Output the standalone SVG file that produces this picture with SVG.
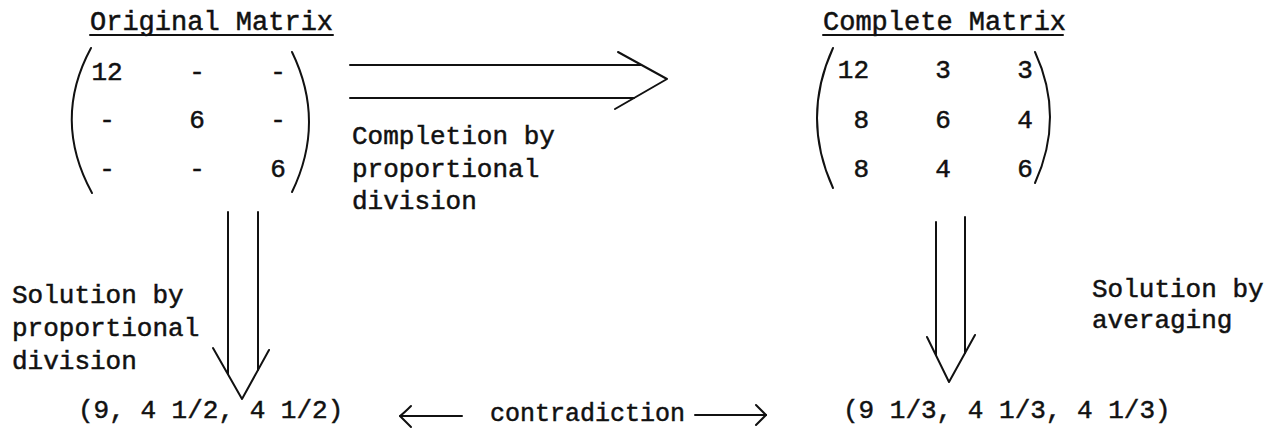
<svg xmlns="http://www.w3.org/2000/svg" width="1274" height="429" viewBox="0 0 1274 429">
<style>
text{font-family:"Liberation Mono","DejaVu Sans Mono",monospace;font-size:26px;fill:#111;stroke:#111;stroke-width:0.5}
.t{font-size:27px}
.c{font-size:25px}
.m{text-anchor:middle}
.e{text-anchor:end}
.ln{fill:none;stroke:#111;stroke-width:2;stroke-linecap:round;stroke-linejoin:round}
</style>
<rect width="1274" height="429" fill="#fff"/>
<g id="original-matrix">
<text class="t" x="90" y="30">Original Matrix</text>
<line class="ln" x1="90" y1="35" x2="333" y2="35"/>
<path class="ln" d="M91,48 Q52,120 92,193"/>
<path class="ln" d="M292,52 Q326,122 292,192"/>
<text class="m" x="107" y="80">12</text><text class="m" x="197" y="80">-</text><text class="m" x="278" y="80">-</text>
<text class="m" x="107" y="128">-</text><text class="m" x="197" y="128">6</text><text class="m" x="278" y="128">-</text>
<text class="m" x="107" y="177">-</text><text class="m" x="197" y="177">-</text><text class="m" x="278" y="177">6</text>
</g>
<g id="complete-matrix">
<text class="t" x="823" y="30">Complete Matrix</text>
<line class="ln" x1="823" y1="35" x2="1063" y2="35"/>
<path class="ln" d="M833,48 Q801,118 833,188"/>
<path class="ln" d="M1035,52 Q1065,117 1035,183"/>
<text class="e" x="869" y="78">12</text><text class="m" x="943" y="78">3</text><text class="m" x="1025" y="78">3</text>
<text class="e" x="869" y="128">8</text><text class="m" x="943" y="128">6</text><text class="m" x="1025" y="128">4</text>
<text class="e" x="869" y="177">8</text><text class="m" x="943" y="177">4</text><text class="m" x="1025" y="177">6</text>
</g>
<g id="solution-proportional">
<text x="78" y="418">(9, 4 1/2, 4 1/2)</text>
</g>
<g id="solution-averaging">
<text x="843" y="418">(9 1/3, 4 1/3, 4 1/3)</text>
</g>
<g id="connectors">
<g id="completion">
<line class="ln" x1="350" y1="65" x2="641" y2="65"/>
<line class="ln" x1="350" y1="98" x2="634" y2="98"/>
<polyline class="ln" points="618,52 667,79 615,109"/>
<text x="352" y="144">Completion by</text>
<text x="352" y="177">proportional</text>
<text x="352" y="209">division</text>
</g>
<g id="solution-by-proportional">
<line class="ln" x1="228" y1="212" x2="228" y2="374"/>
<line class="ln" x1="258" y1="212" x2="258" y2="370"/>
<polyline class="ln" points="213,348 242,399 269,350"/>
<text x="12" y="303">Solution by</text>
<text x="12" y="336">proportional</text>
<text x="12" y="369">division</text>
</g>
<g id="solution-by-averaging">
<line class="ln" x1="936" y1="222" x2="936" y2="355"/>
<line class="ln" x1="965" y1="217" x2="965" y2="353"/>
<polyline class="ln" points="927,337 949,382 975,335"/>
<text x="1092" y="297">Solution by</text>
<text x="1092" y="328">averaging</text>
</g>
<g id="contradiction">
<line class="ln" x1="400" y1="416" x2="462" y2="416"/>
<path class="ln" d="M411,406 Q404,413 400,416 Q404,420 411,427"/>
<text class="c" x="490" y="421">contradiction</text>
<line class="ln" x1="695" y1="415" x2="766" y2="415"/>
<path class="ln" d="M756,405 Q762,411 766,415 Q762,419 756,425"/>
</g>
</g>
</svg>
